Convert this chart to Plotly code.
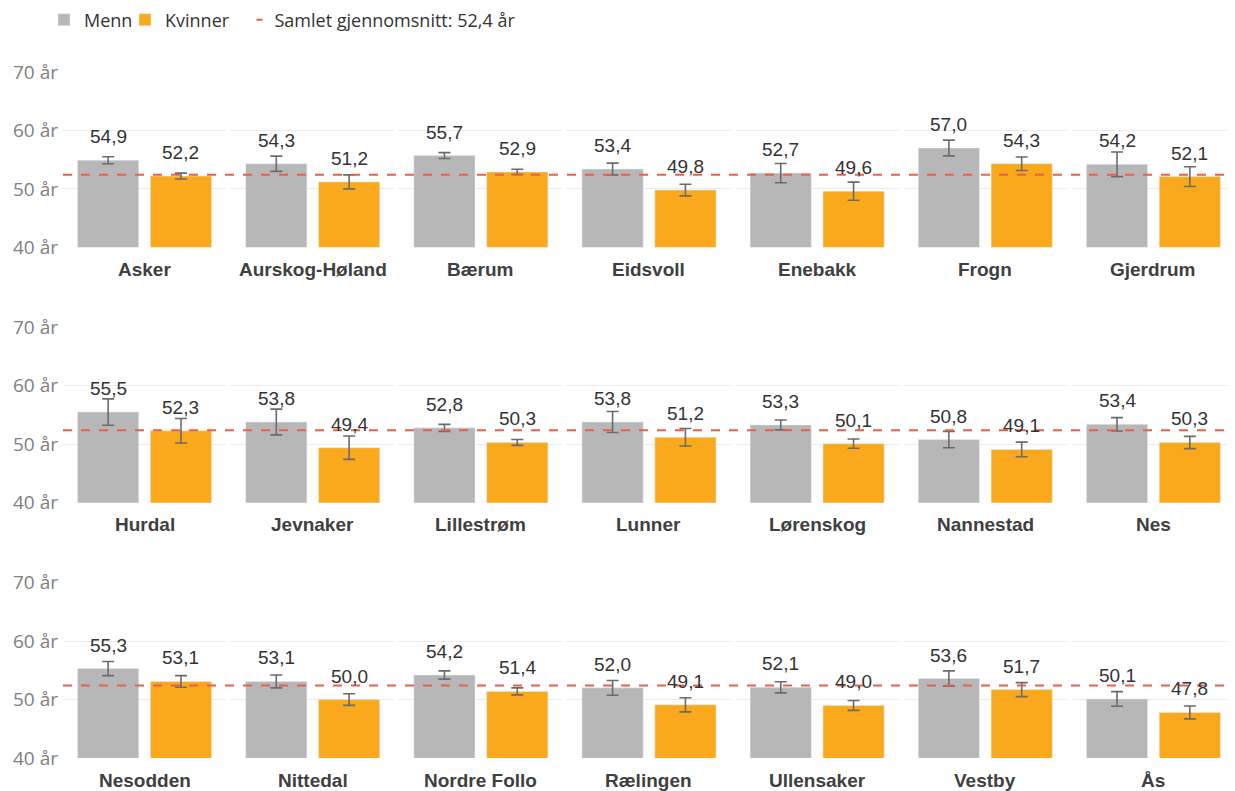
import plotly.graph_objects as go
from plotly.subplots import make_subplots

kommuner = ["Asker", "Aurskog-Høland", "Bærum", "Eidsvoll", "Enebakk", "Frogn", "Gjerdrum",
            "Hurdal", "Jevnaker", "Lillestrøm", "Lunner", "Lørenskog", "Nannestad", "Nes",
            "Nesodden", "Nittedal", "Nordre Follo", "Rælingen", "Ullensaker", "Vestby", "Ås"]
menn = [54.9, 54.3, 55.7, 53.4, 52.7, 57.0, 54.2,
        55.5, 53.8, 52.8, 53.8, 53.3, 50.8, 53.4,
        55.3, 53.1, 54.2, 52.0, 52.1, 53.6, 50.1]
kvinner = [52.2, 51.2, 52.9, 49.8, 49.6, 54.3, 52.1,
           52.3, 49.4, 50.3, 51.2, 50.1, 49.1, 50.3,
           53.1, 50.0, 51.4, 49.1, 49.0, 51.7, 47.8]
menn_feil = [0.6, 1.3, 0.5, 1.0, 1.65, 1.35, 2.1,
             2.25, 2.2, 0.6, 1.8, 0.85, 1.4, 1.15,
             1.2, 1.1, 0.7, 1.25, 0.95, 1.3, 1.25]
kvinner_feil = [0.5, 1.2, 0.45, 1.0, 1.55, 1.15, 1.7,
                2.1, 2.0, 0.5, 1.5, 0.8, 1.25, 1.05,
                1.0, 1.0, 0.6, 1.2, 0.85, 1.2, 1.1]
snitt = 52.4
y_ticks = [40, 50, 60, 70]
y_ticktext = ["40 år", "50 år", "60 år", "70 år"]
kjonn = ["Menn", "Kvinner"]

GRAY = "#B7B7B7"
ORANGE = "#F9A91B"
RED = "#E8604C"
ERR = "#6B6B6B"
LBL = "Liberation Sans, Arial, sans-serif"
LEG = "Open Sans, sans-serif"

W, H = 1227, 783
ml, mr, mt, mb = 55, 0, 64, 33
pw, ph = W - ml - mr, H - mt - mb

fig = make_subplots(rows=3, cols=7, horizontal_spacing=5 / pw, vertical_spacing=80 / ph)

annotations = []
for i, k in enumerate(kommuner):
    r, c = i // 7 + 1, i % 7 + 1
    n = i + 1
    ax = "" if n == 1 else str(n)
    fig.add_trace(go.Bar(x=[kjonn[0]], y=[menn[i]], marker_color=GRAY, width=0.84,
                         error_y=dict(type="data", array=[menn_feil[i]], color=ERR, thickness=1.6, width=6),
                         name="Menn", legendgroup="Menn", showlegend=(i == 0),
                         legend="legend"), row=r, col=c)
    fig.add_trace(go.Bar(x=[kjonn[1]], y=[kvinner[i]], marker_color=ORANGE, width=0.84,
                         error_y=dict(type="data", array=[kvinner_feil[i]], color=ERR, thickness=1.6, width=6),
                         name="Kvinner", legendgroup="Kvinner", showlegend=(i == 0),
                         legend="legend3"), row=r, col=c)
    for g, v in zip(kjonn, [menn[i], kvinner[i]]):
        annotations.append(dict(x=g, y=v, xref="x" + ax, yref="y" + ax, yanchor="bottom",
                                yshift=11, showarrow=False,
                                text=f"{v:.1f}".replace(".", ","),
                                font=dict(family=LBL, size=19, color="#333333")))
    annotations.append(dict(x=0.5, y=0, xref="x" + ax + " domain", yref="y" + ax + " domain",
                            yanchor="middle", yshift=-22, showarrow=False,
                            text=f"<b>{k}</b>", font=dict(family=LBL, size=19, color="#404040")))
    fig.update_xaxes(row=r, col=c, showticklabels=False, showgrid=False, zeroline=False,
                     showline=False, range=[-0.62, 1.62], categoryorder="array", categoryarray=kjonn,
                     fixedrange=True)
    fig.update_yaxes(row=r, col=c, range=[40, 70], tickvals=y_ticks, ticktext=y_ticktext,
                     showticklabels=(c == 1), gridcolor="#EBEBEB", gridwidth=1, zeroline=False,
                     showline=False, tickfont=dict(family=LEG, size=19, color="#808080"),
                     ticks="", ticklabelstandoff=4)

# mean line across each row
for r in range(3):
    first = r * 7 + 1
    ax = "" if first == 1 else str(first)
    fig.add_shape(type="line", xref="paper", x0=0, x1=1, yref="y" + ax, y0=snitt, y1=snitt,
                  line=dict(color=RED, width=2, dash="dash"), layer="above")

fig.add_trace(go.Scatter(x=[None], y=[None], mode="lines",
                         line=dict(color=RED, width=2, dash="0px,17px,6px,30px"),
                         name="Samlet gjennomsnitt: " + f"{snitt:.1f}".replace(".", ",") + " år",
                         showlegend=True, legend="legend2"))

ly = (H - mb - 12) / ph
legfont = dict(family=LEG, size=18, color="#333333")
fig.update_layout(
    width=W, height=H, barmode="overlay",
    margin=dict(l=ml, r=mr, t=mt, b=mb, autoexpand=False),
    plot_bgcolor="white", paper_bgcolor="white",
    annotations=annotations,
    showlegend=True,
    legend=dict(orientation="h", x=(36 - ml) / pw, xanchor="left", y=ly, yanchor="middle",
                font=legfont, itemwidth=30, bgcolor="rgba(0,0,0,0)"),
    legend3=dict(orientation="h", x=(117 - ml) / pw, xanchor="left", y=ly, yanchor="middle",
                 font=legfont, itemwidth=30, bgcolor="rgba(0,0,0,0)"),
    legend2=dict(orientation="h", x=(226.5 - ml) / pw, xanchor="left", y=ly, yanchor="middle",
                 font=legfont, itemwidth=30, bgcolor="rgba(0,0,0,0)"),
)

fig.write_html("out.html")
